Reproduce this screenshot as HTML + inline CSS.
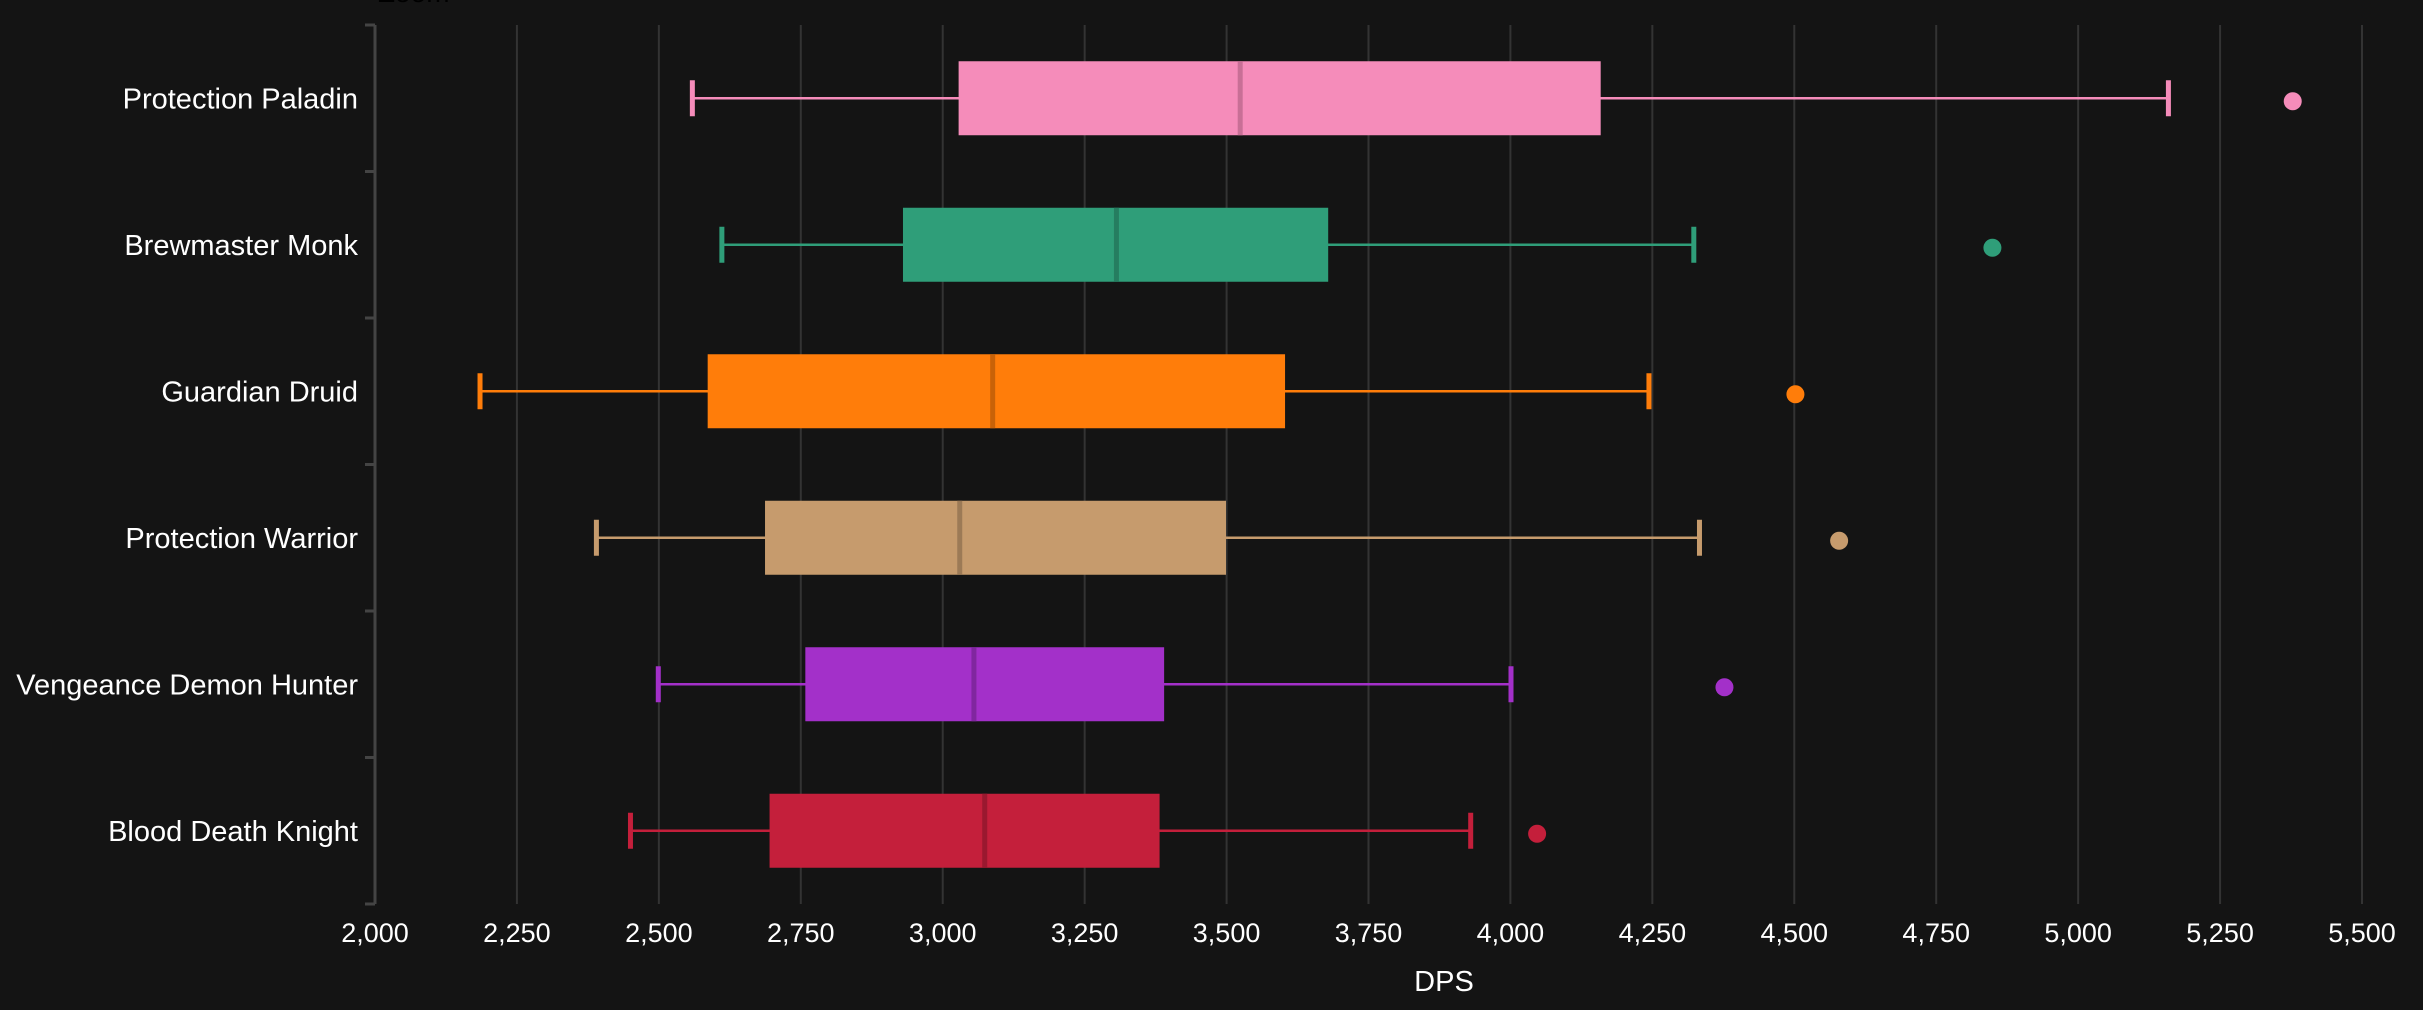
<!DOCTYPE html>
<html><head><meta charset="utf-8"><style>
html,body{margin:0;padding:0;background:#141414;}
svg{display:block;font-family:"Liberation Sans","DejaVu Sans",sans-serif;}
</style></head><body>
<svg id="chart" width="2423" height="1010" viewBox="0 0 2423 1010" xmlns="http://www.w3.org/2000/svg">
<rect width="2423" height="1010" fill="#141414"/>
<text x="378" y="2" font-size="28" fill="#000">Zoom</text>
<g id="grid"></g>
<g id="axes"></g>
<g id="marks"></g>
<text x="1444" y="991" font-size="29" fill="#fff" text-anchor="middle">DPS</text>
</svg>
<script>
const categories = ["Protection Paladin","Brewmaster Monk","Guardian Druid","Protection Warrior","Vengeance Demon Hunter","Blood Death Knight"];
const whiskerLow = [2559,2611,2185,2390,2499,2450];
const q1 = [3028,2930,2586,2687,2758,2695];
const median = [3524,3306,3088,3030,3055,3074];
const q3 = [4159,3679,3603,3499,3390,3382];
const whiskerHigh = [5159,4323,4244,4333,4001,3930];
const outliers = [5378,4849,4502,4579,4377,4047];
const xTicks = [2000,2250,2500,2750,3000,3250,3500,3750,4000,4250,4500,4750,5000,5250,5500];
const colors = ["#F58CBA","#2F9E79","#FF7D0A","#C69B6D","#A330C9","#C41F3B"];
const medColors = ["#C86F96","#257D60","#C86208","#9C7A56","#80269F","#9A182F"];

const NS="http://www.w3.org/2000/svg";
const X0=375,X1=2362,D0=2000,D1=5500,Y0=25,Y1=904;
const x=v=>X0+(v-D0)/(D1-D0)*(X1-X0);
const band=(Y1-Y0)/categories.length;
const y=i=>Y0+band*(i+0.5);
function mk(parent,tag,attrs){const e=document.createElementNS(NS,tag);for(const k in attrs)e.setAttribute(k,attrs[k]);parent.appendChild(e);return e;}
const grid=document.getElementById('grid'),axes=document.getElementById('axes'),marks=document.getElementById('marks');
xTicks.forEach(t=>{
  const l=mk(grid,'line',{x1:x(t),x2:x(t),y1:Y0,y2:Y1,stroke:'#333',"stroke-width":2});
  
  
  const tx=mk(axes,'text',{x:x(t),y:942,"font-size":27,fill:'#fff',"text-anchor":'middle'});
  tx.textContent=t.toLocaleString('en-US');
  
  
});
const ax=mk(axes,'line',{x1:X0,x2:X0,y1:Y0,y2:Y1,stroke:'#444',"stroke-width":3});


for(let i=0;i<=categories.length;i++){
  const tk=mk(axes,'line',{x1:X0-10,x2:X0,y1:Y0+band*i,y2:Y0+band*i,stroke:'#444',"stroke-width":3});
  
  
}
categories.forEach((c,i)=>{
  const cy=y(i);
  const lb=mk(axes,'text',{x:358,y:cy+10,"font-size":29,fill:'#fff',"text-anchor":'end'});
  lb.textContent=c;
  
  
  const g=mk(marks,'g',{});
  
  
  const w=mk(g,'line',{x1:x(whiskerLow[i]),x2:x(whiskerHigh[i]),y1:cy,y2:cy,stroke:colors[i],"stroke-width":2.5});
  
  
  [whiskerLow[i],whiskerHigh[i]].forEach(v=>{
    const cp=mk(g,'line',{x1:x(v),x2:x(v),y1:cy-18,y2:cy+18,stroke:colors[i],"stroke-width":5});
    
    
  });
  const b=mk(g,'rect',{x:x(q1[i]),y:cy-37,width:x(q3[i])-x(q1[i]),height:74,fill:colors[i]});
  
  
  const m=mk(g,'line',{x1:x(median[i]),x2:x(median[i]),y1:cy-37,y2:cy+37,stroke:medColors[i],"stroke-width":5});
  
  
  const o=mk(g,'circle',{cx:x(outliers[i]),cy:cy+3,r:9,fill:colors[i]});
  
  
});
</script>
</body></html>
